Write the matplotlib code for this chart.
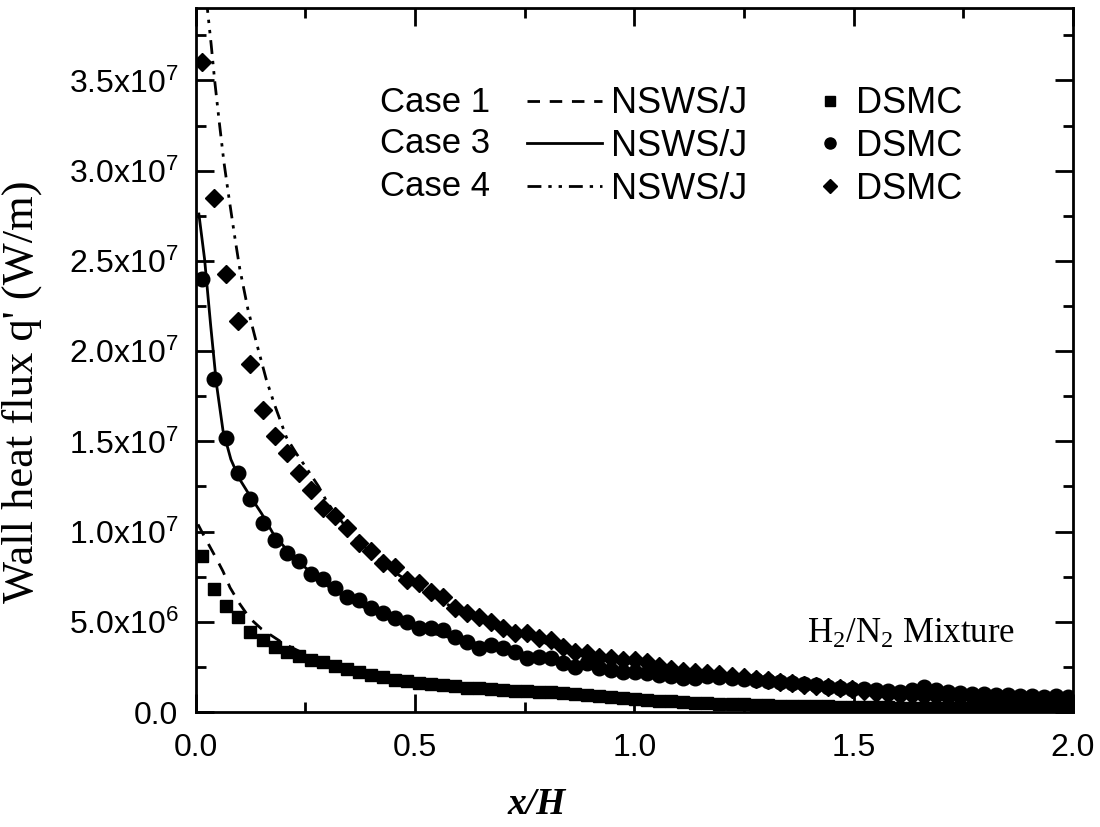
import numpy as np
import matplotlib
matplotlib.use("Agg")
import matplotlib.pyplot as plt
from matplotlib.ticker import MultipleLocator, FuncFormatter
from matplotlib.lines import Line2D

# DSMC sample positions (x/H), one per cell
x_dsmc = np.linspace(0.015, 1.989, 73)

# DSMC wall heat flux, units of 1e6 W/m
case1_dsmc = [8.65, 6.81, 5.85, 5.29, 4.45, 3.97, 3.58, 3.35, 3.08, 2.88,
              2.75, 2.56, 2.38, 2.20, 2.06, 1.92, 1.80, 1.72, 1.62, 1.55,
              1.48, 1.42, 1.36, 1.31, 1.27, 1.23, 1.19, 1.16, 1.13, 1.10,
              1.05, 0.99, 0.93, 0.87, 0.81, 0.76, 0.71, 0.67, 0.63, 0.59,
              0.55, 0.51, 0.48, 0.46, 0.44, 0.42, 0.40, 0.38, 0.36, 0.35,
              0.33, 0.32, 0.31, 0.30, 0.29, 0.28, 0.27, 0.26, 0.25, 0.24,
              0.24, 0.23, 0.22, 0.22, 0.21, 0.21, 0.20, 0.20, 0.19, 0.19,
              0.18, 0.18, 0.17]
case3_dsmc = [24.0, 18.46, 15.17, 13.25, 11.8, 10.5, 9.55, 8.81, 8.38, 7.66,
              7.36, 6.86, 6.40, 6.22, 5.75, 5.48, 5.20, 5.01, 4.64, 4.64,
              4.55, 4.18, 3.90, 3.53, 3.72, 3.53, 3.35, 2.98, 3.07, 2.98,
              2.70, 2.52, 2.70, 2.42, 2.33, 2.24, 2.24, 2.15, 2.05, 2.00,
              1.87, 1.90, 2.00, 1.95, 1.90, 1.82, 1.78, 1.72, 1.65, 1.60,
              1.55, 1.48, 1.40, 1.33, 1.30, 1.25, 1.20, 1.15, 1.12, 1.20,
              1.40, 1.22, 1.10, 1.05, 1.02, 1.00, 0.96, 0.92, 0.90, 0.90,
              0.86, 0.88, 0.85]
case4_dsmc = [36.05, 28.5, 24.3, 21.66, 19.26, 16.76, 15.28, 14.36, 13.25, 12.32,
              11.3, 10.84, 10.2, 9.36, 8.90, 8.25, 8.06, 7.33, 7.14, 6.68,
              6.40, 5.75, 5.48, 5.29, 5.01, 4.64, 4.37, 4.38, 4.09, 4.00,
              3.62, 3.35, 3.26, 3.07, 2.98, 2.89, 2.89, 2.79, 2.55, 2.40,
              2.30, 2.20, 2.15, 2.10, 2.00, 1.92, 1.85, 1.75, 1.68, 1.60,
              1.52, 1.45, 1.40, 1.33, 1.25, 1.15, 1.08, 0.98, 0.95, 0.92,
              0.90, 0.88, 0.85, 0.83, 0.82, 0.80, 0.78, 0.76, 0.75, 0.73,
              0.72, 0.70, 0.70]

# NSWS/J solutions, units of 1e6 W/m
x_case1 = [0.005, 0.02, 0.047, 0.062, 0.078, 0.10, 0.123, 0.15, 0.2, 0.25,
           0.3, 0.4, 0.5, 0.6, 0.75, 1.0, 1.25, 1.5, 1.75, 2.0]
y_case1 = [10.4, 9.7, 8.5, 7.8, 6.9, 6.0, 5.2, 4.6, 3.8, 3.2,
           2.75, 2.05, 1.6, 1.3, 1.0, 0.65, 0.45, 0.3, 0.2, 0.15]
x_case3 = [0.007, 0.02, 0.034, 0.047, 0.062, 0.08, 0.10, 0.123, 0.15, 0.176,
           0.207, 0.25, 0.3, 0.35, 0.4, 0.465, 0.5, 0.586, 0.7, 0.8,
           0.9, 1.0, 1.2, 1.4, 1.6, 1.8, 2.0]
y_case3 = [27.6, 25.1, 21.4, 18.2, 15.6, 14.0, 12.9, 12.0, 11.0, 9.9,
           9.0, 8.0, 7.0, 6.2, 5.6, 4.92, 4.6, 4.09, 3.5, 3.0,
           2.6, 2.25, 1.75, 1.4, 1.15, 0.95, 0.8]
x_case4 = [0.020, 0.028, 0.035, 0.043, 0.053, 0.064, 0.075, 0.089, 0.100, 0.119,
           0.139, 0.161, 0.180, 0.207, 0.230, 0.250, 0.280, 0.300, 0.35, 0.40,
           0.45, 0.50, 0.60, 0.70, 0.80, 0.90, 1.00, 1.20, 1.40, 1.60,
           1.80, 2.00]
y_case4 = [40.5, 38.6, 37.0, 35.0, 32.8, 30.5, 28.6, 26.3, 24.6, 22.3,
           20.4, 18.4, 17.0, 15.2, 14.3, 13.6, 12.5, 11.6, 10.0, 8.8,
           7.8, 7.0, 5.6, 4.6, 3.8, 3.2, 2.7, 2.0, 1.45, 1.05,
           0.8, 0.6]

case_names = ["Case 1", "Case 3", "Case 4"]
scale = 1e6

sans = "Liberation Sans"
serif = "Liberation Serif"

fig = plt.figure(figsize=(11, 8.27), dpi=100)
ax = fig.add_axes([0.178, 0.139, 0.7975, 0.851])

dash1 = (0, (4.5, 3.5))
dash4 = (0, (5, 2.5, 1.2, 2.5, 1.2, 2.5))

l1, = ax.plot(x_case1, np.array(y_case1) * scale, color="black", lw=2, ls=dash1)
l3, = ax.plot(x_case3, np.array(y_case3) * scale, color="black", lw=2, ls="-")
l4, = ax.plot(x_case4, np.array(y_case4) * scale, color="black", lw=2, ls=dash4)

m1, = ax.plot(x_dsmc, np.array(case1_dsmc) * scale, ls="none", marker="s",
              ms=9, color="black")
m3, = ax.plot(x_dsmc, np.array(case3_dsmc) * scale, ls="none", marker="o",
              ms=10.5, color="black")
m4, = ax.plot(x_dsmc, np.array(case4_dsmc) * scale, ls="none", marker="D",
              ms=9, color="black")

ax.set_xlim(0, 2.0)
ax.set_ylim(0, 3.9e7)

ax.xaxis.set_major_locator(MultipleLocator(0.5))
ax.xaxis.set_minor_locator(MultipleLocator(0.25))
ax.yaxis.set_major_locator(MultipleLocator(5e6))
ax.yaxis.set_minor_locator(MultipleLocator(2.5e6))


def ylab(v, pos):
    if v <= 0:
        return "0.0"
    e = int(np.floor(np.log10(v)))
    m = v / 10 ** e
    return r"$\mathregular{%.1fx10^{%d}}$" % (m, e)


ax.yaxis.set_major_formatter(FuncFormatter(ylab))
ax.xaxis.set_major_formatter(FuncFormatter(lambda v, p: "%.1f" % v))

ax.tick_params(which="both", direction="in", top=True, right=True, width=2)
ax.tick_params(which="major", length=13, labelsize=23)
ax.tick_params(which="minor", length=7.5)
ax.tick_params(axis="y", which="major", pad=12.5)
ax.tick_params(axis="x", which="major", pad=15)
for lab in ax.get_xticklabels() + ax.get_yticklabels():
    lab.set_fontfamily(sans)
for sp in ax.spines.values():
    sp.set_linewidth(2)

ax.set_ylabel("Wall heat flux q' (W/m)", fontfamily=serif, fontsize=32)
ax.yaxis.set_label_coords(-0.175, 0.455)
ax.set_xlabel("x/H", fontfamily=serif, fontsize=27, fontweight="bold",
              fontstyle="italic")
ax.xaxis.set_label_coords(0.389, -0.106)

# legend block: case names, model lines, DSMC markers
row_y = [0.866, 0.808, 0.747]
for name, yy in zip(case_names, row_y):
    ax.text(0.21, yy, name, transform=ax.transAxes, fontfamily=sans,
            fontsize=25, va="center", ha="left")

leg1 = ax.legend([l1, l3, l4], ["NSWS/J"] * 3, loc="upper left",
                 bbox_to_anchor=(0.377, 0.889), frameon=False, borderpad=0,
                 borderaxespad=0, handlelength=2.1, handletextpad=0.23,
                 labelspacing=0.21, prop={"family": sans, "size": 26})
ax.add_artist(leg1)
mk_handles = [Line2D([], [], ls="none", marker="s", ms=7, color="black"),
              Line2D([], [], ls="none", marker="o", ms=8, color="black"),
              Line2D([], [], ls="none", marker="D", ms=7, color="black")]
ax.legend(mk_handles, ["DSMC"] * 3, loc="upper left",
          bbox_to_anchor=(0.707, 0.889), frameon=False, borderpad=0,
          borderaxespad=0, handlelength=0.8, handletextpad=0.32,
          labelspacing=0.21, prop={"family": sans, "size": 26})

ax.text(0.697, 0.11, r"$\mathregular{H_2/N_2}$ Mixture", transform=ax.transAxes,
        fontfamily=serif, fontsize=25, va="center", ha="left")

fig.savefig("out.png", dpi=100)
